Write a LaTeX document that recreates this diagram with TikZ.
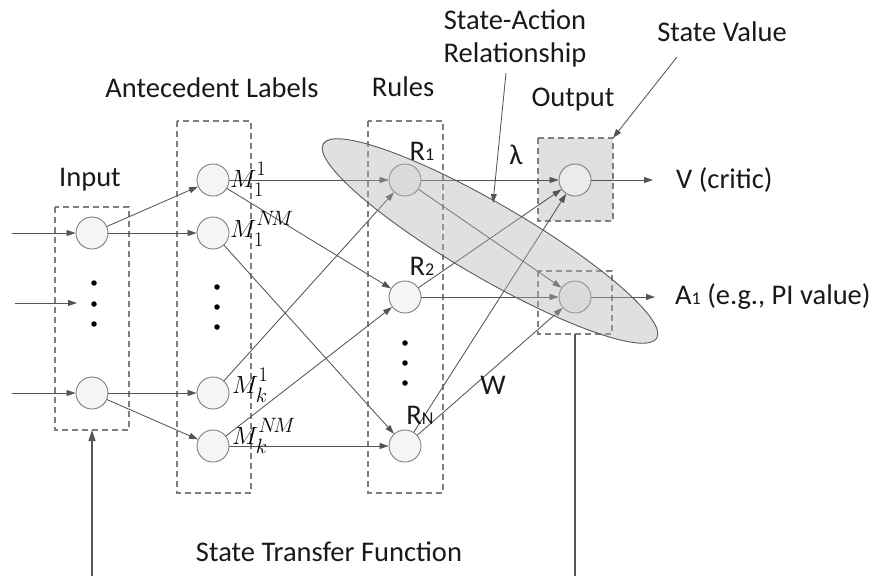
\documentclass[tikz,border=0pt]{standalone}
\usepackage{fontspec}
\setmainfont{Carlito}
\usetikzlibrary{arrows.meta,shapes.geometric}
\definecolor{lin}{HTML}{555555}
\definecolor{box}{HTML}{7F7F7F}
\newcommand{\mlbl}[2]{M^{\raisebox{2pt}{$\scriptstyle #2$}}_{\raisebox{-3pt}{$\scriptstyle #1$}}}
\begin{document}
\begin{tikzpicture}[x=1pt,y=-1pt,
  neuron/.style={circle,draw=box,line width=0.9pt,fill=black!4,minimum size=32pt,inner sep=0pt},
  grp/.style={draw=box,dashed,dash pattern=on 6pt off 4pt,line width=1.3pt},
  conn/.style={draw=lin,line width=0.85pt,-{Triangle[length=9pt,width=6pt]}},
  lbl/.style={font=\fontsize{28.5}{33}\selectfont,text=black!90,inner sep=0pt},
  mlab/.style={inner sep=0pt,anchor=base west,font=\fontsize{29}{33}\selectfont},
  dot/.style={circle,fill=black,inner sep=0pt,minimum size=5.5pt}]
\useasboundingbox (0,0) rectangle (875,576);
% group boxes
\path[fill=black!12] (538,138) rectangle (613,221);
\draw[grp] (55,207) rectangle (129,430);
\draw[grp] (177,121) rectangle (251,493);
\draw[grp] (368,121) rectangle (443,493);
\draw[grp] (538,138) rectangle (613,221);
\draw[grp] (538,271) rectangle (612,334);
\coordinate (inbox) at (92,430);
\coordinate (abox) at (575,334);
\coordinate (vboxne) at (613,138);
% neurons
\node[neuron] (in1) at (92,233) {};
\node[neuron] (in2) at (92,393) {};
\node[neuron] (m11) at (213,180) {};
\node[neuron] (m1n) at (213,233) {};
\node[neuron] (mk1) at (213,393) {};
\node[neuron] (mkn) at (213,446) {};
\node[neuron] (r1) at (405,180) {};
\node[neuron] (r2) at (405,297) {};
\node[neuron] (rn) at (405,446) {};
\node[neuron,fill=black!8] (ov) at (575,180) {};
\node[neuron] (oa) at (575,297) {};
% dots
\foreach \y [count=\i] in {283,304,324} \node[dot] (di\i) at (94,\y) {};
\foreach \y [count=\i] in {287,307,327} \node[dot] (da\i) at (217,\y) {};
\foreach \y [count=\i] in {343,363,383} \node[dot] (dr\i) at (405,\y) {};
% inputs
\coordinate (s1) at (12,233);
\coordinate (s2) at (15,303);
\coordinate (s2e) at (77,303);
\coordinate (s3) at (12,393);
\draw[conn] (s1) -- (in1);
\draw[conn] (s2) -- (s2e);
\draw[conn] (s3) -- (in2);
% input -> antecedent
\draw[conn] (in1) -- (m11);
\draw[conn] (in1) -- (m1n);
\draw[conn] (in2) -- (mk1);
\draw[conn] (in2) -- (mkn);
% antecedent -> rules
\draw[conn] (m11) -- (r1);
\draw[conn] (m11) -- (r2);
\draw[conn] (m1n) -- (rn);
\draw[conn] (mk1) -- (r1);
\draw[conn] (mkn) -- (r2);
\draw[conn] (mkn) -- (rn);
% rules -> outputs
\draw[conn] (r1) -- (ov);
\draw[conn] (r1) -- (oa);
\draw[conn] (r2) -- (ov);
\draw[conn] (r2) -- (oa);
\draw[conn] (rn) -- (ov);
\draw[conn] (rn) -- (oa);
\coordinate (ve) at (653,180);
\coordinate (ae) at (655,297);
\draw[conn] (ov) -- (ve);
\draw[conn] (oa) -- (ae);
% state-action ellipse
\node[ellipse,draw=black!65,line width=0.9pt,fill=black!30,fill opacity=0.4,
      minimum width=386pt,minimum height=74pt,rotate=-30.2] (sa) at (490,241) {};
% callouts
\coordinate (sat) at (506,73);
\coordinate (sah) at (493,203);
\draw[conn] (sat) -- (sah);
\coordinate (svt) at (677,57);
\draw[conn] (svt) -- (vboxne);
% state transfer
\coordinate (b1) at (92,576);
\coordinate (b2) at (575,576);
\draw[draw=lin,line width=1.2pt,-{Triangle[length=11pt,width=7pt]}] (b1) -- (inbox);
\draw[draw=lin,line width=1.2pt] (abox) -- (b2);
% labels
\node[lbl] (tin) at (90,180) {Input};
\node[lbl] (tant) at (212,88) {Antecedent Labels};
\node[lbl] (trul) at (403,87) {Rules};
\node[lbl] (tout) at (573,100) {Output};
\node[lbl,align=center,font=\fontsize{28.5}{33}\selectfont] (tsa) at (515,38) {State-Action\\Relationship};
\node[lbl] (tsv) at (722,32) {State Value};
\node[lbl,anchor=west] (tv) at (676,180) {V (critic)};
\node[lbl,anchor=west] (ta) at (675,297) {A{\fontsize{18}{20}\selectfont 1} (e.g., PI value)};
\node[lbl] (tr1) at (422,151) {R{\fontsize{18}{20}\selectfont 1}};
\node[lbl] (tr2) at (422,266) {R{\fontsize{18}{20}\selectfont 2}};
\node[lbl] (trn) at (420,415) {R{\fontsize{18}{20}\selectfont N}};
\node[lbl] (tlam) at (516,155) {λ};
\node[lbl] (tw) at (493,385) {W};
\node[lbl] (tst) at (329,552) {State Transfer Function};
\node[mlab] (lm11) at (230,187) {$\mlbl{1}{1}$};
\node[mlab] (lm1n) at (230,237) {$\mlbl{1}{N\!M}$};
\node[mlab] (lmk1) at (232,393) {$\mlbl{k}{1}$};
\node[mlab] (lmkn) at (232,444) {$\mlbl{k}{N\!M}$};
\end{tikzpicture}
\end{document}
